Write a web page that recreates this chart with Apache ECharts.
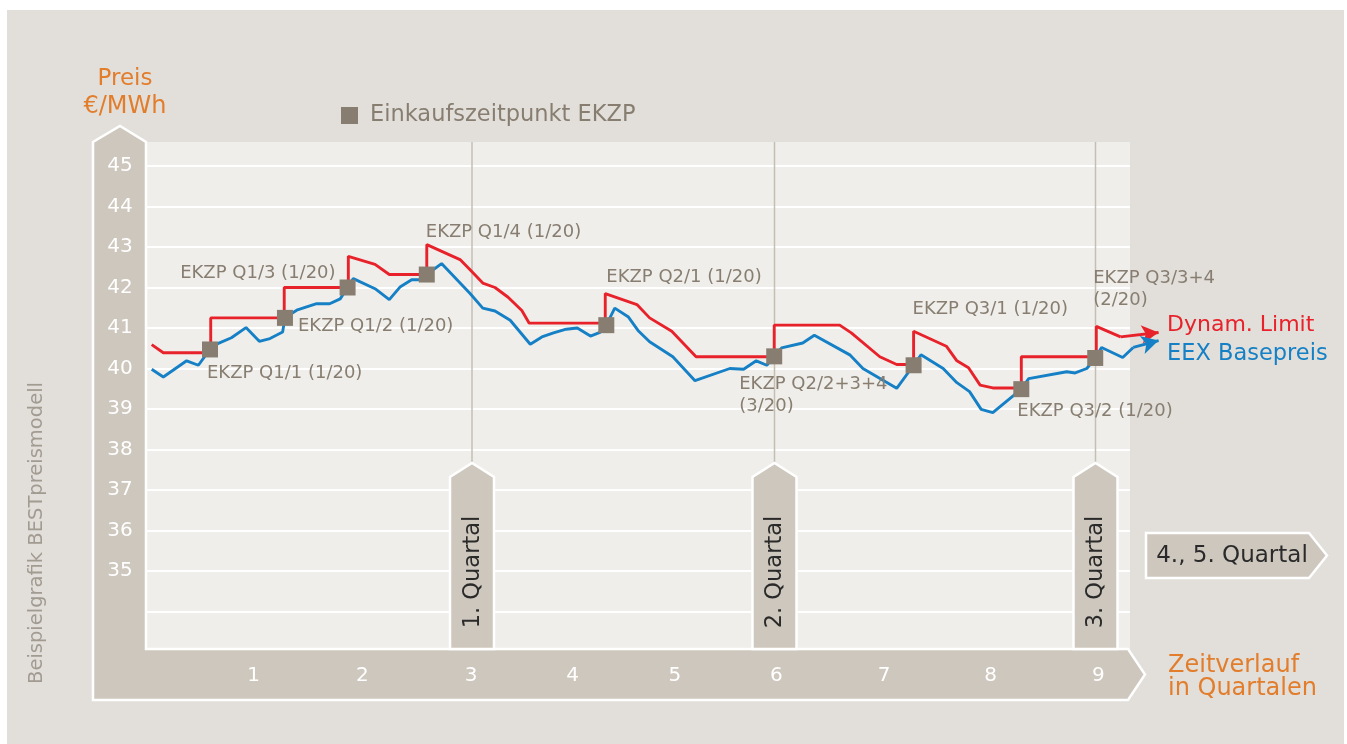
<!DOCTYPE html>
<html><head><meta charset="utf-8">
<script src="https://cdn.jsdelivr.net/npm/echarts@6/dist/echarts.min.js"></script>
<style>html,body{margin:0;padding:0;background:#fff;}#c{width:1347px;height:744px;}</style>
</head><body><div id="c"></div>
<script>
// ---- data ----
const xTickLabels = ['1','2','3','4','5','6','7','8','9'];
const xTickPos = [1.0, 2.03, 3.06, 4.02, 4.99, 5.95, 6.97, 7.98, 9.0];
const yTickLabels = [35,36,37,38,39,40,41,42,43,44,45];

const limitX = [0.035,0.145,0.594,0.594,1.29,1.29,1.897,1.897,2.15,2.285,2.64,2.64,2.955,3.05,3.17,3.286,3.41,3.54,3.61,4.33,4.33,4.63,4.75,4.96,5.19,5.93,5.93,6.55,6.66,6.93,7.09,7.25,7.25,7.56,7.66,7.77,7.88,8.0,8.27,8.27,8.98,8.98,9.21];
const limitY = [40.59,40.39,40.39,41.25,41.25,42.0,42.0,42.77,42.57,42.32,42.32,43.06,42.69,42.44,42.11,42.0,41.76,41.43,41.12,41.12,41.85,41.58,41.25,40.92,40.29,40.29,41.07,41.07,40.88,40.29,40.10,40.10,40.92,40.55,40.19,40.02,39.59,39.52,39.52,40.29,40.29,41.04,40.78];
const limitArrowX = [9.21, 9.57];
const limitArrowY = [40.78, 40.89];

const baseX = [0.035,0.145,0.366,0.477,0.587,0.666,0.79,0.928,1.054,1.155,1.275,1.297,1.408,1.597,1.72,1.82,1.89,1.944,2.15,2.285,2.386,2.497,2.576,2.64,2.78,3.05,3.17,3.286,3.43,3.62,3.73,3.84,3.96,4.065,4.19,4.28,4.34,4.42,4.55,4.64,4.75,4.97,5.18,5.51,5.64,5.76,5.86,5.93,6.0,6.2,6.31,6.65,6.77,7.09,7.25,7.32,7.53,7.66,7.78,7.89,8.0,8.27,8.34,8.70,8.78,8.89,8.97,9.03,9.23,9.33];
const baseY = [39.98,39.79,40.19,40.08,40.47,40.62,40.76,41.01,40.67,40.74,40.9,41.25,41.44,41.6,41.6,41.72,42.0,42.22,41.97,41.70,42.01,42.19,42.19,42.32,42.59,41.85,41.49,41.42,41.19,40.6,40.78,40.88,40.97,41.0,40.80,40.89,41.07,41.49,41.27,40.94,40.66,40.29,39.70,40.0,39.98,40.19,40.08,40.30,40.51,40.63,40.82,40.33,40.0,39.51,40.08,40.34,40.0,39.65,39.43,38.99,38.91,39.49,39.75,39.92,39.89,40.0,40.26,40.52,40.27,40.52];
const baseArrowX = [9.33, 9.57];
const baseArrowY = [40.52, 40.69];

const ekzpX = [0.587,1.297,1.89,2.64,4.34,5.93,7.25,8.27,8.97];
const ekzpY = [40.47,41.25,42.0,42.32,41.07,40.30,40.08,39.49,40.26];
const ekzpLabels = ['EKZP Q1/1 (1/20)','EKZP Q1/2 (1/20)','EKZP Q1/3 (1/20)','EKZP Q1/4 (1/20)','EKZP Q2/1 (1/20)','EKZP Q2/2+3+4\n(3/20)','EKZP Q3/1 (1/20)','EKZP Q3/2 (1/20)','EKZP Q3/3+4\n(2/20)'];

const quarterTags = ['1. Quartal','2. Quartal','3. Quartal'];

// ---- layout / style ----
const FONT = "'DejaVu Sans', sans-serif";
const GREY = '#877e71';
const ORANGE = '#e27d2c';
const RED = '#e8222b';
const BLUE = '#1580c5';
const BAND = '#cec7bd';
const labelPlace = [
  {offset:[-3,24], align:'left'},
  {offset:[13,8], align:'left'},
  {offset:[-12,-14], align:'right'},
  {offset:[-1,-42], align:'left'},
  {offset:[0,-48], align:'left'},
  {offset:[-35,39], align:'left'},
  {offset:[-1,-56], align:'left'},
  {offset:[-4,22], align:'left'},
  {offset:[-2,-69], align:'left'}
];
const tagCx = [472, 774.5, 1095.5];

const chart = echarts.init(document.getElementById('c'), null, {renderer:'canvas'});

const graphics = [
  {type:'rect', shape:{x:7,y:10,width:1337,height:734}, style:{fill:'#e2dfda'}, z:-20, silent:true},
  {type:'rect', shape:{x:146,y:142,width:984,height:507}, style:{fill:'#f0eeea'}, z:-15, silent:true},
  {type:'polygon', shape:{points:[[93,700],[93,142],[120,126],[146,142],[146,649],[1128,649],[1145,674.5],[1128,700]]},
   style:{fill:BAND, stroke:'#fff', lineWidth:2.5}, z:-10, silent:true},
  {type:'polygon', shape:{points:[[1146,533],[1309,533],[1327,555.5],[1309,578],[1146,578]]},
   style:{fill:BAND, stroke:'#fff', lineWidth:2.5}, z:1, silent:true},
  {type:'text', x:1232, y:556, style:{text:'4., 5. Quartal', fill:'#2a2a2a', font:'23px '+FONT, align:'center', verticalAlign:'middle'}, z:2},
  {type:'text', x:125, y:79, style:{text:'Preis', fill:ORANGE, font:'23px '+FONT, align:'center', verticalAlign:'middle'}, z:2},
  {type:'text', x:125, y:107, style:{text:'€/MWh', fill:ORANGE, font:'24px '+FONT, align:'center', verticalAlign:'middle'}, z:2},
  {type:'rect', shape:{x:341,y:107,width:17,height:17}, style:{fill:GREY}, z:2},
  {type:'text', x:370, y:115, style:{text:'Einkaufszeitpunkt EKZP', fill:GREY, font:'22.5px '+FONT, align:'left', verticalAlign:'middle'}, z:2},
  {type:'text', x:37, y:533, rotation:Math.PI/2, style:{text:'Beispielgrafik BESTpreismodell', fill:'#a29b92', font:'19.5px '+FONT, align:'center', verticalAlign:'middle'}, z:2},
  {type:'text', x:1167, y:325, style:{text:'Dynam. Limit', fill:RED, font:'22px '+FONT, align:'left', verticalAlign:'middle'}, z:2},
  {type:'text', x:1167, y:354, style:{text:'EEX Basepreis', fill:BLUE, font:'22.5px '+FONT, align:'left', verticalAlign:'middle'}, z:2},
  {type:'text', x:1168, y:666, style:{text:'Zeitverlauf', fill:ORANGE, font:'24px '+FONT, align:'left', verticalAlign:'middle'}, z:2},
  {type:'text', x:1168, y:689, style:{text:'in Quartalen', fill:ORANGE, font:'24px '+FONT, align:'left', verticalAlign:'middle'}, z:2}
];
tagCx.forEach((cx, i) => {
  graphics.push({type:'line', shape:{x1:cx,y1:142,x2:cx,y2:463}, style:{stroke:'#c4beb5', lineWidth:1.5}, z:1, silent:true});
  graphics.push({type:'polygon', shape:{points:[[cx-22,649],[cx-22,477],[cx,463],[cx+22,477],[cx+22,649]]},
    style:{fill:BAND, stroke:'#fff', lineWidth:2.5}, z:1, silent:true});
  graphics.push({type:'text', x:cx+1, y:572, rotation:Math.PI/2,
    style:{text:quarterTags[i], fill:'#2a2a2a', font:'22.5px '+FONT, align:'center', verticalAlign:'middle'}, z:2});
});

const zip = (xs, ys) => xs.map((x, i) => [x, ys[i]]);

const option = {
  animation:false,
  textStyle:{fontFamily:FONT},
  graphic:{elements:graphics},
  grid:[
    {left:146, top:125.5, width:984, height:526.5},
    {left:148, top:125.5, width:1013.76, height:526.5}
  ],
  xAxis:[
    {gridIndex:0, type:'value', min:0, max:1, show:false},
    {gridIndex:1, type:'value', min:0, max:9.6,
     axisLine:{show:false}, axisTick:{show:false}, splitLine:{show:false},
     axisLabel:{customValues:xTickPos, color:'#fff', fontSize:20, fontFamily:FONT, margin:24, verticalAlign:'middle',
       formatter:(v) => { const i = xTickPos.indexOf(v); return i >= 0 ? xTickLabels[i] : ''; }}}
  ],
  yAxis:[
    {gridIndex:0, type:'value', min:33, max:46, interval:1,
     axisLine:{show:false}, axisTick:{show:false},
     splitLine:{show:true, showMinLine:false, showMaxLine:false, lineStyle:{color:'#ffffff', width:2}},
     axisLabel:{color:'#fff', fontSize:20, fontFamily:FONT, margin:26, align:'center',
       formatter:(v) => yTickLabels.indexOf(v) >= 0 ? String(v) : ''}},
    {gridIndex:1, type:'value', min:33, max:46, interval:1, show:false, splitLine:{show:false}}
  ],
  series:[
    {type:'line', xAxisIndex:1, yAxisIndex:1, data:zip(limitX, limitY), symbol:'none', z:3,
     lineStyle:{color:RED, width:2.9}, itemStyle:{color:RED},
     markLine:{silent:true, symbol:['none','arrow'], symbolSize:[14,17], label:{show:false},
       lineStyle:{color:RED, width:2.9, type:'solid'},
       data:[[{coord:[limitArrowX[0], limitArrowY[0]]},{coord:[limitArrowX[1], limitArrowY[1]]}]]}},
    {type:'line', xAxisIndex:1, yAxisIndex:1, data:zip(baseX, baseY), symbol:'none', z:3,
     lineStyle:{color:BLUE, width:2.9}, itemStyle:{color:BLUE},
     markLine:{silent:true, symbol:['none','arrow'], symbolSize:[14,17], label:{show:false},
       lineStyle:{color:BLUE, width:2.9, type:'solid'},
       data:[[{coord:[baseArrowX[0], baseArrowY[0]]},{coord:[baseArrowX[1], baseArrowY[1]]}]]}},
    {type:'scatter', xAxisIndex:1, yAxisIndex:1, symbol:'rect', symbolSize:16, z:5,
     itemStyle:{color:GREY, opacity:1},
     data: ekzpX.map((x, i) => ({
       value:[x, ekzpY[i]],
       label:{show:true, formatter:ekzpLabels[i], position:'inside', offset:labelPlace[i].offset,
         align:labelPlace[i].align, verticalAlign:'middle', color:GREY, fontSize:18, lineHeight:22, fontFamily:FONT}
     }))}
  ]
};
chart.setOption(option);
</script>
</body></html>
